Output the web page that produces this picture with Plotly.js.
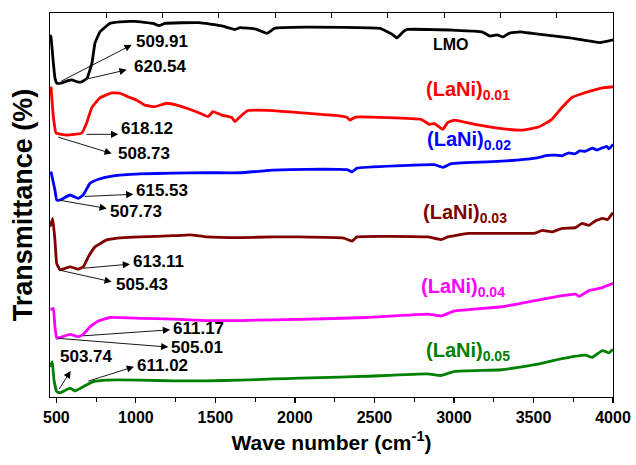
<!DOCTYPE html>
<html>
<head>
<meta charset="utf-8">
<script src="https://cdn.plot.ly/plotly-3.0.1.min.js"></script>
<style>html,body{margin:0;padding:0;background:#fff;}#chart{width:636px;height:465px;}</style>
</head>
<body>
<div id="chart"></div>
<script>
// Wavenumber (cm-1) and transmittance (offset, arbitrary units)
const lmoX = [460,466,481,491,504,523,548,573,596,636,661,693,724,743,774,806,837,900,994,1108,1145,1183,1397,1535,1623,1655,1755,1824,1872,2063,2535,2610,2642,2680,2705,3013,3176,3227,3271,3308,3346,3415,3491,3730,3918,4000];
const lmoY = [94.3,93.8,87,83.1,81.7,81.7,82,82.4,82.6,82.0,82.1,83,87,92.2,95.1,96.3,97.3,97.7,97.8,97.3,96.7,97.3,97.5,96.7,95.7,96.2,95.8,94.7,96,96.3,96,94.5,93.5,95.1,95.7,95.5,95.1,94,94.3,93.75,94.7,95.1,94.7,93.5,92.3,93];

const ni01X = [466,481,498,565,659,691,722,774,848,900,950,1005,1057,1120,1194,1257,1320,1403,1453,1485,1540,1603,1623,1655,1705,1862,2074,2283,2328,2346,2380,2793,2846,2877,2930,2961,3004,3130,3300,3427,3532,3616,3679,3742,3828,3933,4000];
const ni01Y = [80.8,73,68.75,68.2,68.7,71.4,75.3,77.9,79.2,79.1,78.2,77.3,76,75.6,76.5,76,75.2,73.9,73,74.3,73.4,72.8,71.7,73,74.6,74.6,73.9,73.2,72.8,72.1,72.9,72.3,71,71.2,69.7,71.5,72.1,71,69.9,69.5,70.3,72.3,75.4,78,79.3,80.5,80.8];

const ni02X = [466,491,502,523,586,638,669,712,764,858,1026,1235,1445,1655,1864,2074,2283,2328,2359,2390,2877,2930,2983,3300,3510,3590,3638,3680,3722,3760,3790,3828,3870,3900,3933,3960,3975,4000];
const ni02Y = [58.7,53.9,51.3,51.3,52.6,51.7,52.6,55.7,56.7,57.6,58.1,58.3,58.4,58.4,59.1,59.3,59.3,59.2,58.6,59.6,60.5,59.8,60.8,61.4,62.2,62.9,63,62.8,63.6,63.3,64.1,64,64.8,64.3,64.9,65.3,64.6,65.8];

const ni03X = [460,477,491,502,523,586,638,669,701,743,817,921,1026,1235,1340,1445,1655,1864,2032,2307,2359,2390,2835,2919,2961,3088,3300,3510,3555,3618,3680,3764,3805,3849,3891,3933,3966,4000];
const ni03Y = [44.3,46.5,40.9,34.8,33.1,33.9,33.3,33.9,36.5,39.1,40.9,41.5,41.7,42,42.2,41.7,41.5,41.7,41.7,41.4,40.6,41.7,41.7,41,41.7,42.6,42.6,42.7,43.4,43,43.9,44.1,45.2,44.7,45.9,46.5,46.2,48];

const ni04X = [464,481,491,502,523,586,638,669,712,764,837,1026,1235,1445,1655,1864,2032,2453,2835,2919,3004,3300,3510,3680,3764,3786,3849,3933,4000];
const ni04Y = [22.7,23.1,18.3,15.3,15.5,16.3,15.7,16.3,18.3,19.8,20.7,20.5,20.3,19.9,19.9,20.1,20.2,20.7,21.6,21.1,22.4,23.5,25.1,26.4,26.8,26.2,27.7,28.5,29.6];

const ni05X = [460,474,485,502,523,586,617,669,732,817,1026,1235,1445,1655,1864,2032,2283,2453,2835,2919,3004,3300,3510,3680,3828,3868,3933,3975,4000];
const ni05Y = [7.9,9.2,4.4,1.4,1.1,2.3,1.6,2.7,4,4.4,4.4,4.2,4.2,4.4,4.7,4.9,5.2,5.4,6,5.6,6.7,7.1,8.4,10,10.9,10.3,12.1,11.5,12.4];

const seriesNames = ['LMO','(LaNi)<sub>0.01</sub>','(LaNi)<sub>0.02</sub>','(LaNi)<sub>0.03</sub>','(LaNi)<sub>0.04</sub>','(LaNi)<sub>0.05</sub>'];
const xTickVals = [500,1000,1500,2000,2500,3000,3500,4000];

// Peak labels
const peakText  = ['509.91','620.54','618.12','508.73','615.53','507.73','613.11','505.43','611.17','505.01','503.74','611.02'];
const peakFromX = [523,669,680,502,669,512,659,512,659,502,512,691];
const peakFromY = [82.1,82.6,68.4,67.8,52.2,51.3,33.5,33.1,15.9,15.3,1.7,4.0];
const peakToX   = [974,942,889,848,984,817,963,848,1215,1204,590,988];
const peakToY   = [91.7,85.2,68.4,63.4,52.8,49.1,34.6,30.0,17.5,13.0,6.8,7.9];
const peakLblX  = [990,976,894,875,988,825,967,862,1220,1207,512,994];
const peakLblY  = [92.5,86.0,70.0,63.5,53.9,48.3,35.2,29.2,17.9,12.8,10.5,8.3];

// Series label positions (left edge, middle)
const nameX = [2980,2810,2820,2795,2780,2810];
const nameY = [91.9,79.9,66.9,47.9,28.6,11.8];

const colors = ['#000000','#ff0000','#0000ff','#800000','#ff00ff','#008000'];
const xs = [lmoX,ni01X,ni02X,ni03X,ni04X,ni05X];
const ys = [lmoY,ni01Y,ni02Y,ni03Y,ni04Y,ni05Y];

const FONT = 'Liberation Sans, Arial, Helvetica, sans-serif';

const traces = xs.map((x,i)=>({
  x: x, y: ys[i], type:'scatter', mode:'lines',
  line:{color:colors[i], width:2.8, shape:'spline', smoothing:0.3},
  hoverinfo:'skip', showlegend:false
}));
traces.push({x:[0,10], y:[null,null], xaxis:'x2', yaxis:'y', type:'scatter', mode:'lines', showlegend:false, hoverinfo:'skip'});

const annotations = [];
peakText.forEach((t,i)=>{
  annotations.push({
    x: peakToX[i], y: peakToY[i], ax: peakFromX[i], ay: peakFromY[i],
    xref:'x', yref:'y', axref:'x', ayref:'y', text:'', showarrow:true,
    arrowhead:2, arrowsize:1.6, arrowwidth:0.9, arrowcolor:'#000', standoff:0, startstandoff:0
  });
  annotations.push({
    x: peakLblX[i], y: peakLblY[i], xref:'x', yref:'y', text:'<b>'+t+'</b>', showarrow:false,
    xanchor:'left', yanchor:'middle', font:{family:FONT, size:17, color:'#000'}
  });
});
seriesNames.forEach((n,i)=>{
  annotations.push({
    x: nameX[i], y: nameY[i], xref:'x', yref:'y', text:'<b>'+n+'</b>', showarrow:false,
    xanchor: i===0 ? 'center':'left', yanchor:'middle',
    font:{family:FONT, size: i===0 ? 16 : 20, color: colors[i]}
  });
});

const layout = {
  width:636, height:465,
  margin:{l:50, r:23, t:13, b:68},
  paper_bgcolor:'#fff', plot_bgcolor:'#fff',
  font:{family:FONT, color:'#000'},
  xaxis:{
    range:[460,4000], tickvals:xTickVals, ticktext:xTickVals.map(String),
    ticks:'outside', ticklen:5, tickwidth:1.2, tickcolor:'#000',
    minor:{tickvals:[750,1250,1750,2250,2750,3250,3750], ticks:'outside', ticklen:4, tickwidth:1, tickcolor:'#000'},
    showline:true, linecolor:'#000', linewidth:1.3, mirror:true,
    showgrid:false, zeroline:false,
    tickfont:{family:FONT, size:16, weight:'bold', color:'#000'},
    title:{text:'<b>Wave number (cm<sup>-1</sup>)</b>', font:{family:FONT, size:21, color:'#000'}, standoff:10}
  },
  xaxis2:{
    overlaying:'x', side:'top', range:[0,10], dtick:1, tick0:0,
    ticks:'inside', ticklen:5, tickwidth:1, tickcolor:'#000',
    showticklabels:false, showline:false, showgrid:false, zeroline:false
  },
  yaxis:{
    range:[0,100], showticklabels:false, ticks:'',
    showline:true, linecolor:'#000', linewidth:1.3, mirror:true,
    showgrid:false, zeroline:false,
    title:{text:'<b>Transmittance (%)</b>', font:{family:FONT, size:27, color:'#000'}, standoff:8}
  },
  annotations: annotations
};

Plotly.newPlot('chart', traces, layout, {displayModeBar:false, staticPlot:true});
</script>
</body>
</html>
